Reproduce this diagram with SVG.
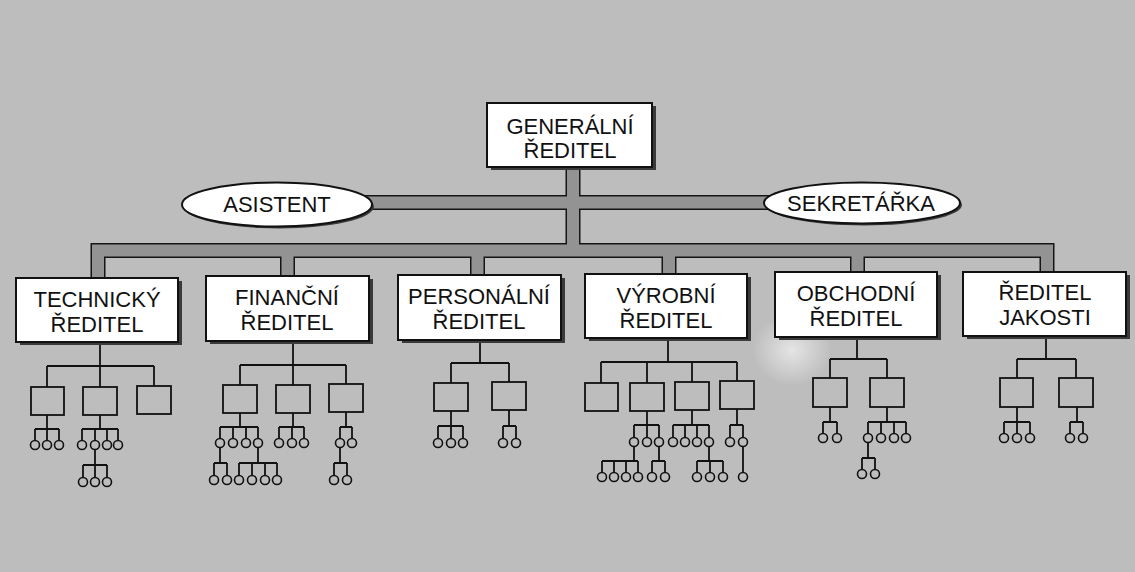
<svg xmlns="http://www.w3.org/2000/svg" width="1135" height="572" viewBox="0 0 1135 572">
<defs>
<style>
.bg{fill:#bdbdbd}
.case{fill:none;stroke:#151515;stroke-width:15}
.band{fill:none;stroke:#939393;stroke-width:12}
.box{fill:#fff;stroke:#111;stroke-width:2}
.sh{fill:#3a3a3a}
.t{font-family:"Liberation Sans",Arial,sans-serif;font-size:22px;text-anchor:middle;fill:#111}
.tg{font-size:22px}
.ln{fill:none;stroke:#111;stroke-width:1.8}
.sb{fill:none;stroke:#111;stroke-width:1.8}
.c{fill:#bdbdbd;stroke:#111;stroke-width:1.6}
</style>
<radialGradient id="spot" cx="0.5" cy="0.5" r="0.5">
<stop offset="0" stop-color="#fff" stop-opacity="0.6"/>
<stop offset="1" stop-color="#fff" stop-opacity="0"/>
</radialGradient>
</defs>
<rect class="bg" x="0" y="0" width="1135" height="572"/>
<ellipse cx="792" cy="350" rx="40" ry="36" fill="url(#spot)"/>

<g id="connectors">
<g id="bands">
<path class="case" d="M573 160 V251 M360 202.5 H780 M98 285 V250.5 H1047 V280 M287.5 250.5 V282 M477.5 250.5 V282 M669 250.5 V280 M857.5 250.5 V278"/>
<path class="band" d="M573 160 V251 M360 202.5 H780 M98 285 V250.5 H1047 V280 M287.5 250.5 V282 M477.5 250.5 V282 M669 250.5 V280 M857.5 250.5 V278"/>
</g>
<path class="ln" d="M100 342 V387 M47 366 H154 M47 366 V387 M154 366 V386 M47 415 V429 M35 429 H59 M35 429 V441 M47 429 V441 M59 429 V441 M100 415 V429 M82 429 H118 M82 429 V441 M95 429 V441 M107 429 V441 M118 429 V441 M95 449 V465 M83 465 H107 M83 465 V478 M95 465 V478 M107 465 V478"/>
<path class="ln" d="M293 341 V385 M240 365 H346 M240 365 V385 M346 365 V384 M240 413 V427 M220 427 H258 M220 427 V439 M233 427 V439 M246 427 V439 M258 427 V439 M220 447 V463 M214 463 H227 M214 463 V476 M227 463 V476 M258 447 V463 M239 463 H277 M239 463 V476 M252 463 V476 M265 463 V476 M277 463 V476 M293 413 V427 M279 427 H304 M279 427 V439 M292 427 V439 M304 427 V439 M346 412 V427 M340 427 H352 M340 427 V439 M352 427 V439 M340 447 V463 M334 463 H347 M334 463 V476 M347 463 V476"/>
<path class="ln" d="M480 340 V363 M451 363 H509 M451 363 V383 M509 363 V382 M451 411 V426 M438 426 H463 M438 426 V439 M451 426 V439 M463 426 V439 M509 410 V426 M503 426 H516 M503 426 V439 M516 426 V439"/>
<path class="ln" d="M668 338 V362 M601 362 H737 M601 362 V383 M647 362 V383 M692 362 V382 M737 362 V381 M647 411 V425 M634 425 H659 M634 425 V438 M647 425 V438 M659 425 V438 M634 446 V461 M602 461 H638 M602 461 V473 M614 461 V473 M626 461 V473 M638 461 V473 M659 446 V461 M652 461 H665 M652 461 V473 M665 461 V473 M692 410 V425 M673 425 H709 M673 425 V438 M685 425 V438 M697 425 V438 M709 425 V438 M709 446 V461 M697 461 H723 M697 461 V473 M710 461 V473 M723 461 V473 M737 409 V425 M730 425 H743 M730 425 V438 M743 425 V438 M743 446 V473"/>
<path class="ln" d="M857 337 V359 M830 359 H887 M830 359 V378 M887 359 V378 M830 407 V422 M823 422 H837 M823 422 V434 M837 422 V434 M887 407 V422 M868 422 H906 M868 422 V434 M881 422 V434 M894 422 V434 M906 422 V434 M868 442 V458 M862 458 H875 M862 458 V470 M875 458 V470"/>
<path class="ln" d="M1046 336 V359 M1017 359 H1076 M1017 359 V378 M1076 359 V378 M1017 407 V422 M1004 422 H1030 M1004 422 V434 M1017 422 V434 M1030 422 V434 M1077 407 V422 M1070 422 H1083 M1070 422 V434 M1083 422 V434"/>
</g>

<g id="generalni-reditel">
<rect class="sh" x="491" y="106" width="165" height="64"/>
<rect class="box" x="487" y="103" width="165" height="64"/>
<text class="t tg" x="570" y="134">GENERÁLNÍ</text>
<text class="t tg" x="570" y="158">ŘEDITEL</text>
</g>

<g id="asistent">
<ellipse class="sh" cx="279" cy="206.5" rx="95" ry="22"/>
<ellipse class="box" cx="277" cy="204.5" rx="95" ry="22"/>
<text class="t" x="277" y="211.5">ASISTENT</text>
</g>

<g id="sekretarka">
<ellipse class="sh" cx="864" cy="205" rx="98" ry="20.5"/>
<ellipse class="box" cx="862" cy="203" rx="98" ry="20.5"/>
<text class="t" x="861" y="211">SEKRETÁŘKA</text>
</g>

<g id="technicky-reditel">
<rect class="sh" x="20" y="281" width="162" height="64"/>
<rect class="box" x="16" y="278" width="162" height="64"/>
<text class="t" x="97" y="307">TECHNICKÝ</text>
<text class="t" x="97" y="332">ŘEDITEL</text>
</g>
<g id="technicky-units">
<rect class="sb" x="31" y="387" width="33" height="28"/>
<rect class="sb" x="83" y="387" width="34" height="28"/>
<rect class="sb" x="137" y="386" width="34" height="28"/>
<circle class="c" cx="35" cy="445" r="4.5"/><circle class="c" cx="47" cy="445" r="4.5"/><circle class="c" cx="59" cy="445" r="4.5"/>
<circle class="c" cx="82" cy="445" r="4.5"/><circle class="c" cx="95" cy="445" r="4.5"/><circle class="c" cx="107" cy="445" r="4.5"/><circle class="c" cx="118" cy="445" r="4.5"/>
<circle class="c" cx="83" cy="482" r="4.5"/><circle class="c" cx="95" cy="482" r="4.5"/><circle class="c" cx="107" cy="482" r="4.5"/>
</g>

<g id="financni-reditel">
<rect class="sh" x="210" y="279" width="163" height="65"/>
<rect class="box" x="206" y="276" width="163" height="65"/>
<text class="t" x="287" y="305">FINANČNÍ</text>
<text class="t" x="287" y="330">ŘEDITEL</text>
</g>
<g id="financni-units">
<rect class="sb" x="223" y="385" width="34" height="28"/>
<rect class="sb" x="276" y="385" width="34" height="28"/>
<rect class="sb" x="329" y="384" width="34" height="28"/>
<circle class="c" cx="220" cy="443" r="4.5"/><circle class="c" cx="233" cy="443" r="4.5"/><circle class="c" cx="246" cy="443" r="4.5"/><circle class="c" cx="258" cy="443" r="4.5"/>
<circle class="c" cx="279" cy="443" r="4.5"/><circle class="c" cx="292" cy="443" r="4.5"/><circle class="c" cx="304" cy="443" r="4.5"/>
<circle class="c" cx="340" cy="443" r="4.5"/><circle class="c" cx="352" cy="443" r="4.5"/>
<circle class="c" cx="214" cy="480" r="4.5"/><circle class="c" cx="227" cy="480" r="4.5"/>
<circle class="c" cx="239" cy="480" r="4.5"/><circle class="c" cx="252" cy="480" r="4.5"/><circle class="c" cx="265" cy="480" r="4.5"/><circle class="c" cx="277" cy="480" r="4.5"/>
<circle class="c" cx="334" cy="480" r="4.5"/><circle class="c" cx="347" cy="480" r="4.5"/>
</g>

<g id="personalni-reditel">
<rect class="sh" x="402" y="278" width="163" height="65"/>
<rect class="box" x="398" y="275" width="163" height="65"/>
<text class="t" x="479" y="304">PERSONÁLNÍ</text>
<text class="t" x="479" y="329">ŘEDITEL</text>
</g>
<g id="personalni-units">
<rect class="sb" x="434" y="383" width="34" height="28"/>
<rect class="sb" x="492" y="382" width="34" height="28"/>
<circle class="c" cx="438" cy="443" r="4.5"/><circle class="c" cx="451" cy="443" r="4.5"/><circle class="c" cx="463" cy="443" r="4.5"/>
<circle class="c" cx="503" cy="443" r="4.5"/><circle class="c" cx="516" cy="443" r="4.5"/>
</g>

<g id="vyrobni-reditel">
<rect class="sh" x="589" y="277" width="162" height="64"/>
<rect class="box" x="585" y="274" width="162" height="64"/>
<text class="t" x="666" y="303">VÝROBNÍ</text>
<text class="t" x="666" y="328">ŘEDITEL</text>
</g>
<g id="vyrobni-units">
<rect class="sb" x="585" y="383" width="33" height="28"/>
<rect class="sb" x="630" y="383" width="34" height="28"/>
<rect class="sb" x="675" y="382" width="34" height="28"/>
<rect class="sb" x="720" y="381" width="34" height="28"/>
<circle class="c" cx="634" cy="442" r="4.5"/><circle class="c" cx="647" cy="442" r="4.5"/><circle class="c" cx="659" cy="442" r="4.5"/>
<circle class="c" cx="673" cy="442" r="4.5"/><circle class="c" cx="685" cy="442" r="4.5"/><circle class="c" cx="697" cy="442" r="4.5"/><circle class="c" cx="709" cy="442" r="4.5"/>
<circle class="c" cx="730" cy="442" r="4.5"/><circle class="c" cx="743" cy="442" r="4.5"/>
<circle class="c" cx="602" cy="477" r="4.5"/><circle class="c" cx="614" cy="477" r="4.5"/><circle class="c" cx="626" cy="477" r="4.5"/><circle class="c" cx="638" cy="477" r="4.5"/>
<circle class="c" cx="652" cy="477" r="4.5"/><circle class="c" cx="665" cy="477" r="4.5"/>
<circle class="c" cx="697" cy="477" r="4.5"/><circle class="c" cx="710" cy="477" r="4.5"/><circle class="c" cx="723" cy="477" r="4.5"/>
<circle class="c" cx="743" cy="477" r="4.5"/>
</g>

<g id="obchodni-reditel">
<rect class="sh" x="779" y="275" width="162" height="65"/>
<rect class="box" x="775" y="272" width="162" height="65"/>
<text class="t" x="856" y="301">OBCHODNÍ</text>
<text class="t" x="856" y="326">ŘEDITEL</text>
</g>
<g id="obchodni-units">
<rect class="sb" x="813" y="378" width="34" height="29"/>
<rect class="sb" x="870" y="378" width="34" height="29"/>
<circle class="c" cx="823" cy="438" r="4.5"/><circle class="c" cx="837" cy="438" r="4.5"/>
<circle class="c" cx="868" cy="438" r="4.5"/><circle class="c" cx="881" cy="438" r="4.5"/><circle class="c" cx="894" cy="438" r="4.5"/><circle class="c" cx="906" cy="438" r="4.5"/>
<circle class="c" cx="862" cy="474" r="4.5"/><circle class="c" cx="875" cy="474" r="4.5"/>
</g>

<g id="reditel-jakosti">
<rect class="sh" x="967" y="275" width="163" height="64"/>
<rect class="box" x="963" y="272" width="163" height="64"/>
<text class="t" x="1045" y="300">ŘEDITEL</text>
<text class="t" x="1045" y="325">JAKOSTI</text>
</g>
<g id="jakosti-units">
<rect class="sb" x="1000" y="378" width="33" height="29"/>
<rect class="sb" x="1059" y="378" width="34" height="29"/>
<circle class="c" cx="1004" cy="438" r="4.5"/><circle class="c" cx="1017" cy="438" r="4.5"/><circle class="c" cx="1030" cy="438" r="4.5"/>
<circle class="c" cx="1070" cy="438" r="4.5"/><circle class="c" cx="1083" cy="438" r="4.5"/>
</g>
</svg>
